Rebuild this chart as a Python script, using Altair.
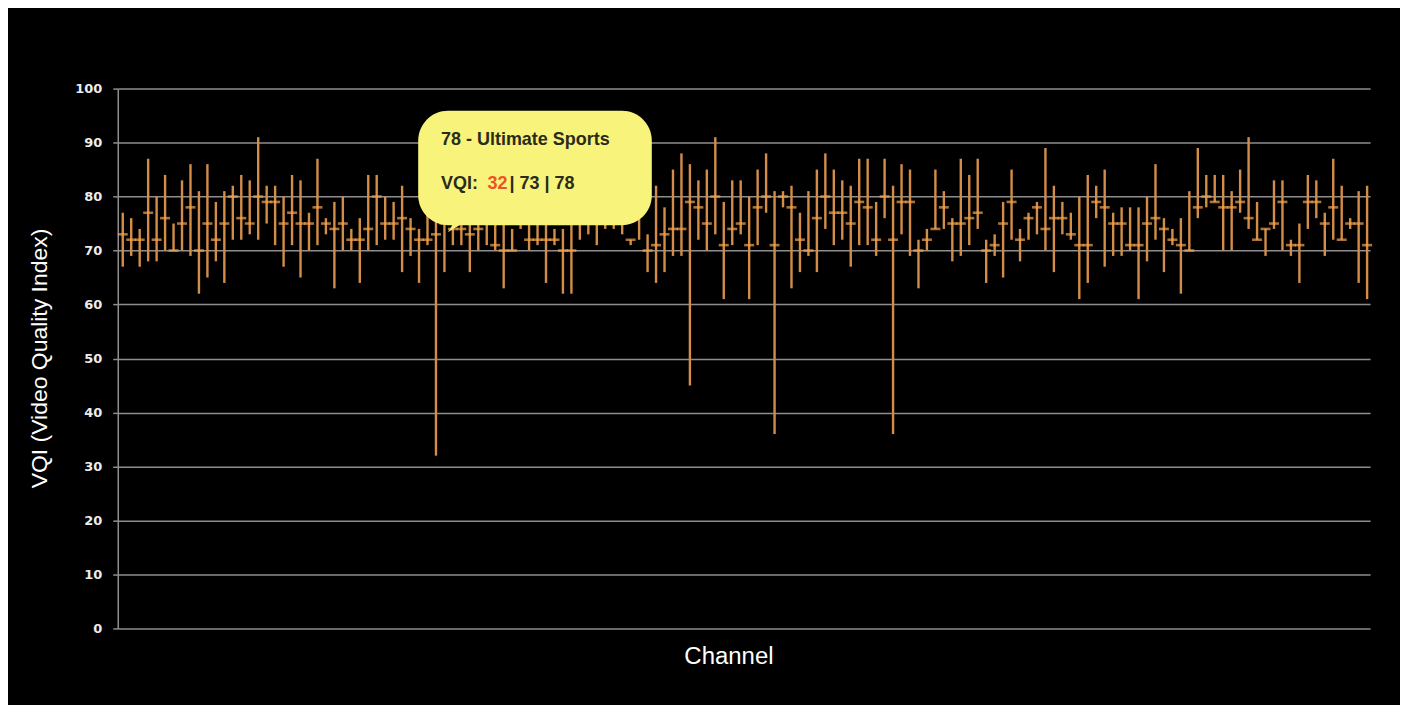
import altair as alt
import pandas as pd

# ---- data: per channel VQI low / average / high ----
low = [67, 69, 67, 68, 68, 70, 70, 70, 69, 62, 65, 68, 64, 72, 72, 73, 72, 75, 71, 67,
       71, 65, 70, 71, 73, 63, 70, 70, 64, 70, 71, 72, 72, 66, 69, 64, 71, 32, 66, 71,
       71, 66, 70, 71, 70, 63, 70, 74, 70, 71, 64, 71, 62, 62, 72, 73, 71, 74, 74, 73,
       71, 72, 66, 64, 66, 69, 69, 45, 72, 70, 73, 61, 71, 73, 61, 71, 77, 36, 78, 63,
       66, 69, 66, 74, 71, 72, 67, 71, 71, 69, 76, 36, 73, 69, 63, 70, 74, 74, 68, 69,
       71, 74, 64, 69, 65, 72, 68, 72, 73, 70, 66, 73, 72, 61, 64, 76, 67, 69, 69, 70,
       61, 68, 72, 66, 71, 62, 70, 76, 78, 79, 70, 70, 77, 74, 72, 69, 74, 70, 69, 64,
       74, 76, 69, 72, 72, 74, 64, 61]
avg = [73, 72, 72, 77, 72, 76, 70, 75, 78, 70, 75, 72, 75, 80, 76, 75, 80, 79, 79, 75,
       77, 75, 75, 78, 75, 74, 75, 72, 72, 74, 80, 75, 75, 76, 74, 72, 72, 73, 75, 74,
       74, 73, 74, 77, 71, 70, 70, 76, 72, 72, 72, 72, 70, 70, 78, 79, 76, 76, 79, 78,
       72, 79, 70, 71, 73, 74, 74, 79, 78, 75, 80, 71, 74, 75, 71, 78, 80, 71, 80, 78,
       72, 70, 76, 80, 77, 77, 75, 79, 78, 72, 80, 72, 79, 79, 70, 72, 74, 78, 75, 75,
       76, 77, 70, 71, 75, 79, 72, 76, 78, 74, 76, 76, 73, 71, 71, 79, 78, 75, 75, 71,
       71, 75, 76, 74, 72, 71, 70, 78, 80, 79, 78, 78, 79, 76, 72, 74, 75, 79, 71, 71,
       79, 79, 75, 78, 72, 75, 75, 71]
high = [77, 76, 74, 87, 80, 84, 75, 83, 86, 81, 86, 79, 81, 82, 84, 83, 91, 82, 82, 80,
        84, 83, 77, 87, 76, 79, 80, 74, 76, 84, 84, 80, 79, 82, 76, 74, 78, 78, 76, 76,
        77, 76, 77, 79, 77, 77, 74, 78, 78, 77, 76, 74, 74, 77, 80, 82, 78, 80, 81, 80,
        72, 80, 73, 82, 78, 85, 88, 86, 83, 85, 91, 79, 83, 83, 80, 85, 88, 81, 81, 82,
        77, 81, 85, 88, 85, 83, 82, 87, 87, 79, 87, 82, 86, 85, 72, 74, 85, 81, 76, 87,
        84, 87, 72, 73, 79, 85, 74, 77, 79, 89, 82, 79, 77, 80, 84, 82, 85, 77, 78, 78,
        78, 80, 86, 76, 74, 76, 81, 89, 84, 84, 84, 81, 85, 91, 79, 74, 83, 83, 72, 75,
        84, 83, 77, 87, 82, 76, 81, 82]

y_ticks = [0, 10, 20, 30, 40, 50, 60, 70, 80, 90, 100]

# callout annotation (the highlighted channel)
callout_title = "78 - Ultimate Sports"
callout_label = "VQI:"
callout_min = "32"
callout_rest = "| 73 | 78"

df = pd.DataFrame({"channel": list(range(len(low))), "low": low, "avg": avg, "high": high})

x_scale = alt.Scale(domain=[-0.59, 147.35], nice=False, zero=False)
y_scale = alt.Scale(domain=[0, 100], nice=False)

GRID = "#8e8e8e"
x_axis = alt.Axis(title="Channel", labels=False, ticks=False, domain=False, grid=False,
                  titleColor="white", titleFont="Liberation Sans", titleFontSize=24,
                  titleFontWeight="normal", titleX=612, titleY=28, titleBaseline="middle")
y_axis = alt.Axis(values=y_ticks, title="VQI (Video Quality Index)",
                  labelColor="#ececec", labelFont="DejaVu Sans", labelFontWeight="bold",
                  labelFontSize=13, labelPadding=11, tickSize=5, tickColor=GRID, tickWidth=1.5,
                  gridColor=GRID, gridWidth=1.5, domainColor=GRID, domainWidth=1.5,
                  titleColor="white", titleFont="Liberation Sans", titleFontSize=23,
                  titleFontWeight="normal", titleX=-78, titleY=270, titleAngle=-90,
                  titleAlign="center", titleBaseline="middle")


def X(field):
    return alt.X(field, type="quantitative", scale=x_scale, axis=x_axis)


def Y(field):
    return alt.Y(field, type="quantitative", scale=y_scale, axis=y_axis)


rules = alt.Chart(df).mark_rule(color="#d38d48", strokeWidth=2.4).encode(
    x=X("channel"), y=Y("low"), y2="high")

ticks = alt.Chart(df).mark_tick(orient="horizontal", color="#f5a44c", size=10, thickness=2.6).encode(
    x=X("channel"), y=Y("avg"))

# callout placed around the spike channel
spike = low.index(min(low))
body_df = pd.DataFrame({"x": [spike - 2.1], "x2": [spike + 25.5], "y": [95.9], "y2": [74.7]})
body = alt.Chart(body_df).mark_rect(color="#f8f37a", cornerRadius=30).encode(
    x=X("x"), x2="x2", y=Y("y"), y2="y2")

tip_df = pd.DataFrame({"x": [spike + 1.4], "y": [73.4]})
tail = alt.Chart(tip_df).mark_point(shape="M0,0 L20,-30 L50,-30 Z", filled=True, fill="#f8f37a",
                                    strokeWidth=0, size=4, opacity=1).encode(x=X("x"), y=Y("y"))

text_df = pd.DataFrame({
    "x": [spike + 0.6, spike + 0.6, spike + 6.1, spike + 8.7],
    "y": [90.4, 82.4, 82.4, 82.4],
    "text": [callout_title, callout_label, callout_min, callout_rest],
    "color": ["#2b2b1a", "#2b2b1a", "#e8552a", "#2b2b1a"],
})
texts = alt.Chart(text_df).mark_text(align="left", baseline="middle", font="Liberation Sans",
                                     fontSize=18, fontWeight="bold").encode(
    x=X("x"), y=Y("y"), text="text:N", color=alt.Color("color:N", scale=None))

chart = alt.layer(rules, ticks, body, tail, texts).properties(
    width=1255, height=541,
    padding={"left": 110, "top": 80, "right": 30, "bottom": 76},
    autosize=alt.AutoSizeParams(type="none"),
    background="black",
).configure_view(stroke=None)

chart.save("out.html", embed_options={"renderer": "svg", "actions": False})
